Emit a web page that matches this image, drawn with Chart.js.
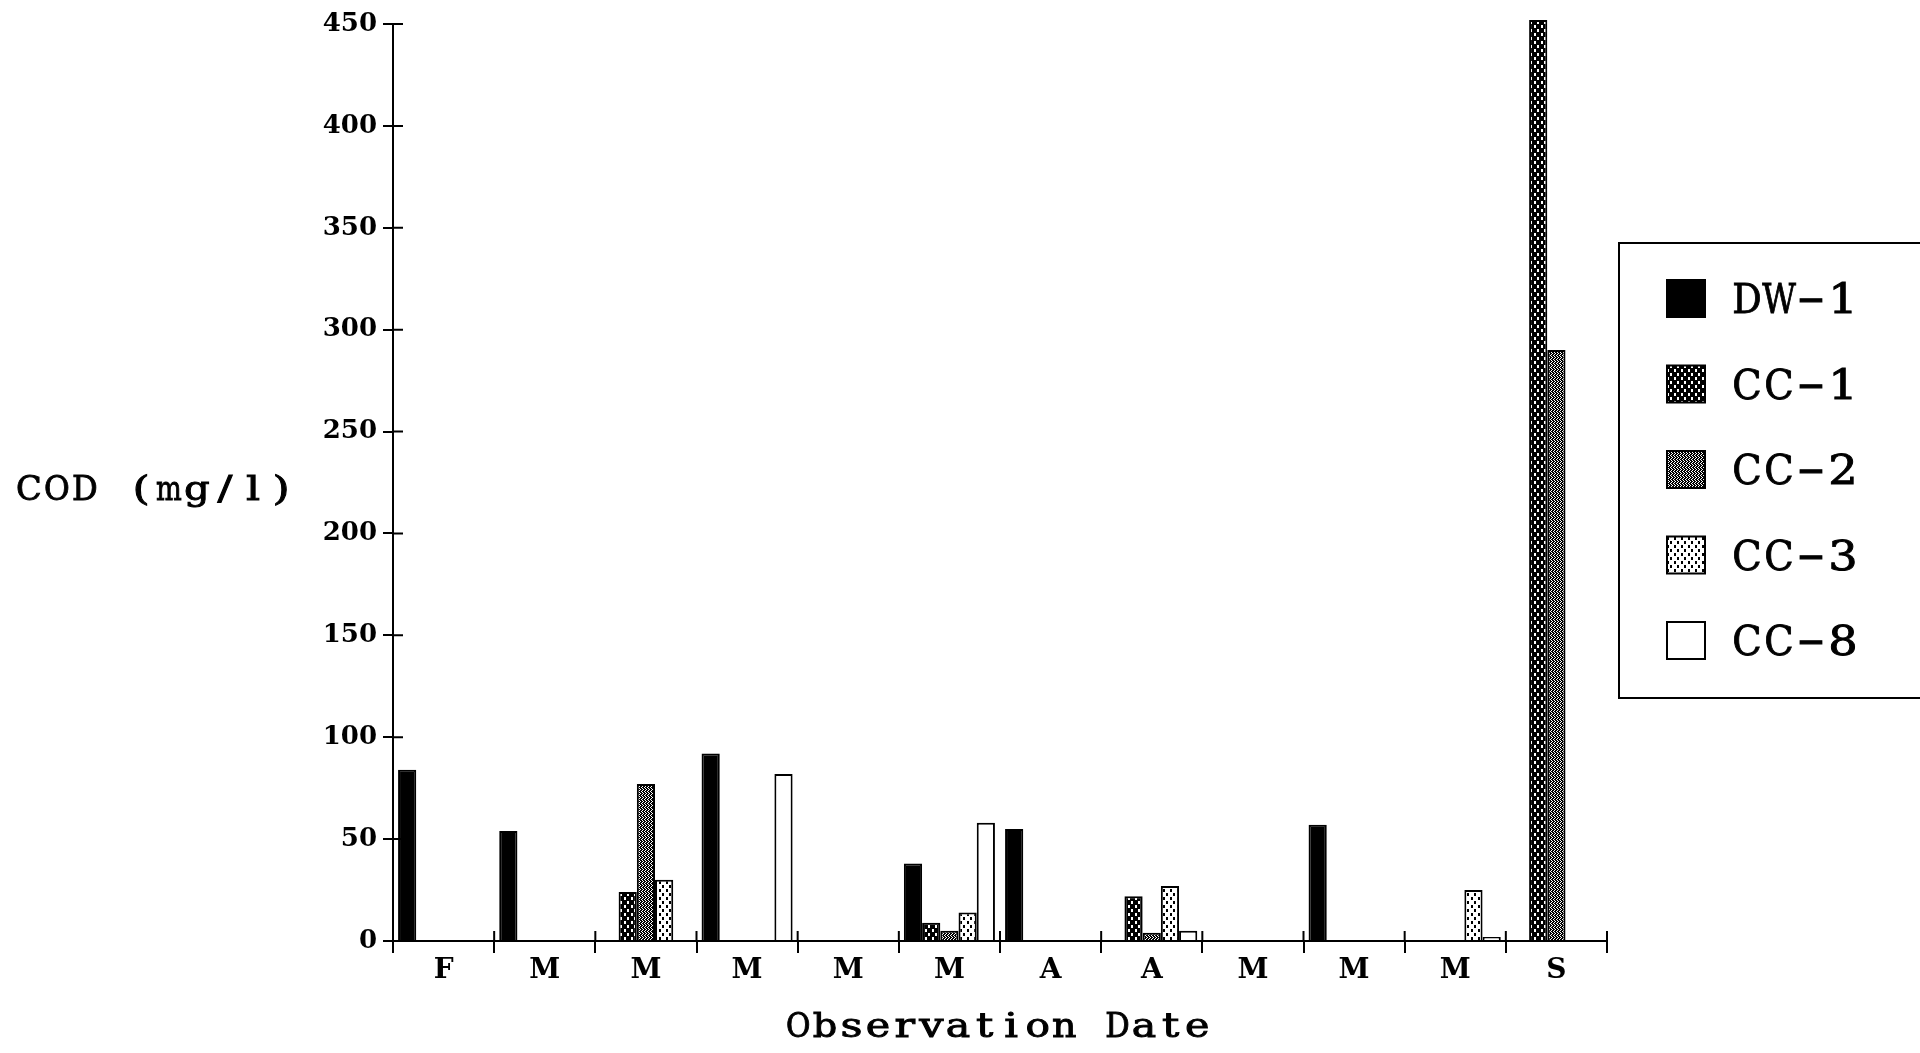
<!DOCTYPE html>
<html>
<head>
<meta charset="utf-8">
<title>COD by observation date</title>
<script src="https://cdn.jsdelivr.net/npm/chart.js@4.4.1/dist/chart.umd.min.js"></script>
<style>
  html, body { margin: 0; padding: 0; background: #fff; }
</style>
</head>
<body>
<canvas id="codChart" width="1920" height="1053"></canvas>
<script>
// observation months along the x axis
const dates = ['F', 'M', 'M', 'M', 'M', 'M', 'A', 'A', 'M', 'M', 'M', 'S'];

// COD in mg/l per well
const dw1 = [84, 54, 0, 92, 0, 38, 55, 0, 0, 57, 0, 0];
const cc1 = [0, 0, 24, 0, 0, 9, 0, 22, 0, 0, 0, 452];
const cc2 = [0, 0, 77, 0, 0, 5, 0, 4, 0, 0, 0, 290];
const cc3 = [0, 0, 30, 0, 0, 14, 0, 27, 0, 0, 25, 0];
const cc8 = [0, 0, 0, 82, 0, 58, 0, 5, 0, 0, 2, 0];

const wellNames = ['DW\u22121', 'CC\u22121', 'CC\u22122', 'CC\u22123', 'CC\u22128'];

const yMin = 0;
const yMax = 450;
const yStep = 50;

// small repeating tiles for the hatched fills
function makePattern(w, h, bg, fg, rects) {
    const tile = document.createElement('canvas');
    tile.width = w;
    tile.height = h;
    const g = tile.getContext('2d');
    g.fillStyle = bg;
    g.fillRect(0, 0, w, h);
    g.fillStyle = fg;
    rects.forEach(r => g.fillRect(r[0], r[1], r[2], r[3]));
    return g.createPattern(tile, 'repeat');
}

const fills = [
    '#000000',
    makePattern(7, 8, '#000', '#fff', [[1, 1, 2, 3], [4, 5, 2, 3]]),
    makePattern(3, 4, '#000', '#fff', [[0, 0, 1, 1], [1, 1, 1, 1], [0, 2, 1, 1], [2, 3, 1, 1]]),
    makePattern(7, 8, '#fff', '#000', [[1, 1, 2, 3], [4, 5, 2, 3]]),
    '#ffffff'
];

const seriesValues = [dw1, cc1, cc2, cc3, cc8];

// draw a string in fixed-width cells, glyphs widened a little, typewriter style
function monoText(ctx, text, left, baseline, cell) {
    ctx.textAlign = 'center';
    ctx.textBaseline = 'alphabetic';
    ctx.lineWidth = 0.9;
    Array.from(text).forEach((ch, i) => {
        const w = ctx.measureText(ch).width || 1;
        const sx = Math.min(1.3, (cell * 0.92) / w);
        ctx.save();
        ctx.translate(left + cell * i + cell / 2, baseline);
        ctx.scale(Math.max(sx, 0.8), 1);
        ctx.fillText(ch, 0, 0);
        ctx.strokeText(ch, 0, 0);
        ctx.restore();
    });
}

const extras = {
    id: 'extras',
    afterDraw(chart) {
        const ctx = chart.ctx;
        const xs = chart.scales.x;
        const ys = chart.scales.y;
        const area = chart.chartArea;

        ctx.save();
        ctx.strokeStyle = '#000';
        ctx.fillStyle = '#000';
        ctx.lineWidth = 2;

        // inner half of the crossing tick marks
        ctx.beginPath();
        ys.ticks.forEach(t => {
            const py = ys.getPixelForValue(t.value);
            ctx.moveTo(area.left, py);
            ctx.lineTo(area.left + 10, py);
        });
        const half = (xs.getPixelForValue(1) - xs.getPixelForValue(0)) / 2;
        for (let i = 0; i <= dates.length; i++) {
            const px = xs.getPixelForValue(i) - half;
            ctx.moveTo(px, area.bottom);
            ctx.lineTo(px, area.bottom - 10);
        }
        ctx.stroke();

        // axis titles
        ctx.font = '34px "DejaVu Serif"';
        monoText(ctx, 'COD (mg/l)', 15, 500, 28);
        ctx.font = '33px "DejaVu Serif"';
        monoText(ctx, 'Observation Date', 785, 1037, 26.6);

        // legend box
        ctx.lineWidth = 2;
        ctx.beginPath();
        ctx.rect(1619, 243, 330, 455);
        ctx.stroke();
        chart.data.datasets.forEach((ds, i) => {
            const top = 280 + i * 85.5;
            ctx.lineWidth = 2;
            ctx.fillStyle = ds.backgroundColor;
            ctx.fillRect(1667, top, 38, 37);
            ctx.strokeRect(1667, top, 38, 37);
            ctx.fillStyle = '#000';
            ctx.font = '41px "DejaVu Serif"';
            monoText(ctx, ds.label, 1731, top + 33, 32);
        });
        ctx.restore();
    }
};

const tickFont = { family: 'DejaVu Serif', weight: 'bold', size: 26 };

new Chart(document.getElementById('codChart'), {
    type: 'bar',
    data: {
        labels: dates,
        datasets: seriesValues.map((vals, i) => ({
            label: wellNames[i],
            data: vals,
            backgroundColor: fills[i],
            borderColor: '#000',
            borderWidth: 2,
            categoryPercentage: 0.9,
            barPercentage: 1,
            clip: 12
        }))
    },
    options: {
        responsive: false,
        animation: false,
        devicePixelRatio: 1,
        layout: { padding: { top: 24, right: 313, bottom: 0, left: 0 } },
        plugins: {
            legend: { display: false },
            tooltip: { enabled: false }
        },
        scales: {
            x: {
                grid: { offset: true, drawOnChartArea: false, color: '#000', lineWidth: 2, tickLength: 12 },
                border: { color: '#000', width: 2 },
                ticks: { color: '#000', font: { family: 'DejaVu Serif', weight: 'bold', size: 28 }, padding: 1, maxRotation: 0, autoSkip: false },
                afterFit(scale) { scale.height = 112; }
            },
            y: {
                min: yMin,
                max: yMax,
                grid: { drawOnChartArea: false, color: '#000', lineWidth: 2, tickLength: 10 },
                border: { color: '#000', width: 2 },
                ticks: { stepSize: yStep, color: '#000', font: tickFont, padding: 6 },
                afterFit(scale) { scale.width = 393; }
            }
        }
    },
    plugins: [extras]
});
</script>
</body>
</html>
